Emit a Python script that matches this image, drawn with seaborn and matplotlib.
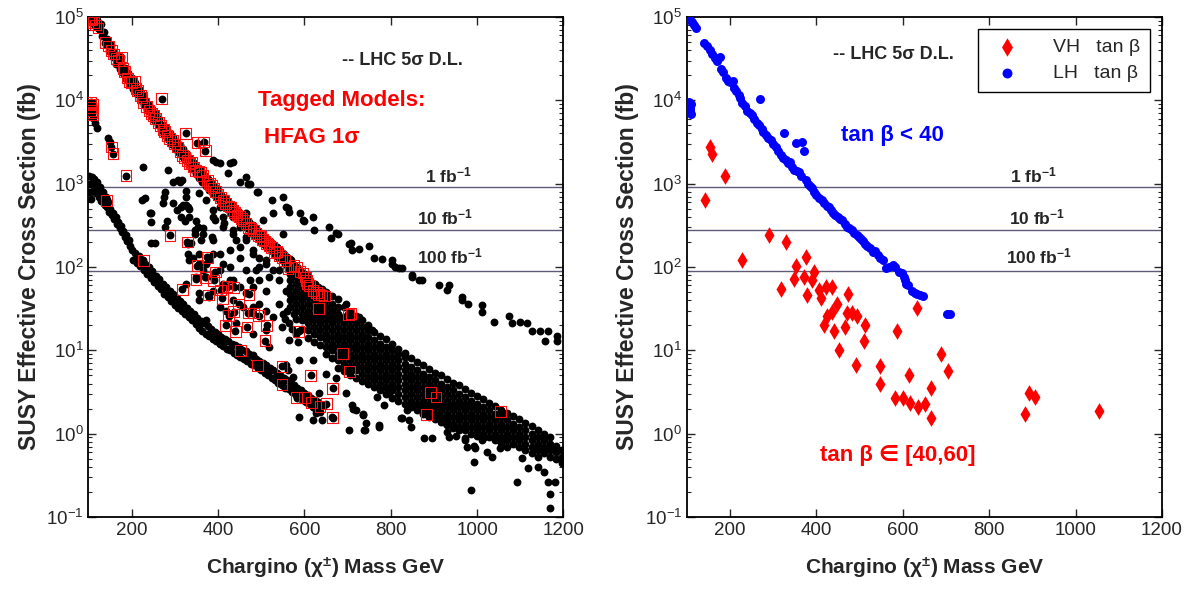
import numpy as np
import pandas as pd
import matplotlib
matplotlib.use("Agg")
import matplotlib.pyplot as plt
import seaborn as sns

# chargino mass (GeV) vs SUSY effective cross section (fb)

# upper diagonal band, all models (two staggered rows)
upper_band = [
    (104, 96000), (112, 94000), (120, 93000), (128, 83000), (136, 66000), (144, 54000),
    (152, 46000), (160, 38000), (168, 32000), (176, 28000), (184, 24500), (192, 21400),
    (200, 18600), (208, 16200), (216, 13800), (224, 12000), (232, 10200), (240, 8700),
    (248, 7800), (256, 6800), (264, 5900), (272, 5100), (280, 4600), (288, 4100),
    (296, 3600), (304, 3200), (312, 2900), (320, 2600), (328, 2300), (336, 2000),
    (344, 1780), (352, 1580), (360, 1410), (368, 1260), (376, 1150), (384, 1020),
    (392, 910), (400, 830), (408, 740), (416, 680), (424, 620), (432, 550),
    (440, 500), (448, 460), (456, 420), (464, 380), (472, 350), (480, 315),
    (488, 290), (496, 265), (504, 245), (512, 225), (520, 205), (528, 186),
    (536, 174), (544, 158), (552, 145), (560, 132), (568, 120), (576, 107),
    (584, 98), (592, 87), (600, 79), (608, 72), (616, 66), (624, 62), (632, 58), (640, 54),
    (108, 85000), (116, 78000), (124, 71000), (132, 59000), (140, 48000), (148, 39000),
    (156, 33000), (164, 27500), (172, 24000), (180, 21000), (188, 18200), (196, 15800),
    (204, 13800), (212, 12000), (220, 10200), (228, 8700), (236, 7600), (244, 6500),
    (252, 5750), (260, 5000), (268, 4400), (276, 3800), (284, 3400), (292, 3000),
    (300, 2700), (308, 2400), (316, 2150), (324, 1900), (332, 1700), (340, 1480),
    (348, 1320), (356, 1170), (364, 1050), (372, 950), (380, 850), (388, 760),
    (396, 690), (404, 620), (412, 560), (420, 510), (428, 460), (436, 420),
    (444, 380), (452, 350), (460, 315), (468, 290), (476, 265), (484, 240),
    (492, 220), (500, 200), (508, 186), (516, 170), (524, 155), (532, 141),
    (540, 132), (548, 120), (556, 110), (564, 100), (572, 91), (580, 81),
    (588, 74), (596, 66), (604, 60), (612, 55), (620, 50), (628, 47), (636, 44),
]

# lower band, all models
lower_band = [
    (102, 1250), (103, 1000), (104, 800), (105, 650), (108, 1200), (110, 1000),
    (112, 850), (114, 1150), (116, 960), (118, 780), (120, 1050), (122, 880),
    (124, 700), (126, 920), (128, 760), (130, 620), (133, 800), (135, 650),
    (138, 560), (140, 700), (143, 520), (146, 600), (148, 460), (151, 500),
    (154, 420), (157, 450), (160, 380), (163, 400), (166, 330), (169, 350),
    (172, 290), (175, 310), (178, 260), (181, 270), (184, 230), (187, 240),
    (190, 205), (193, 210), (196, 180),
    (200, 162), (204, 123), (208, 148), (212, 112), (216, 135), (220, 102),
    (224, 123), (228, 93), (232, 110), (236, 83), (240, 100), (244, 74),
    (248, 89), (252, 66), (256, 79), (260, 59), (264, 71), (268, 54),
    (272, 63), (276, 48), (280, 58), (284, 44), (288, 52), (292, 39),
    (296, 47), (300, 35), (304, 43), (308, 32), (312, 39), (316, 29.5),
    (320, 35.5), (324, 27), (328, 32), (332, 25), (336, 30), (340, 23),
    (344, 27.5), (348, 20.5), (352, 24.5), (356, 18.6), (360, 22.4), (364, 17),
    (368, 21), (372, 15.8), (376, 19.5), (380, 14.8), (384, 17.8), (388, 13.8),
    (392, 16.6), (396, 12.9), (400, 15.5), (404, 12), (408, 14.5), (412, 11.2),
    (416, 13.5), (420, 10.5), (424, 12.9), (428, 10), (432, 12), (436, 9.3),
    (440, 11.5), (444, 8.9), (448, 11), (452, 8.3), (456, 10.2), (460, 7.9),
    (464, 9.8), (468, 7.4), (472, 9.1), (476, 6.9), (480, 8.5), (484, 6.6),
    (488, 7.9), (492, 6.2), (496, 7.4), (500, 5.75), (504, 7.1), (508, 5.4),
    (512, 6.6), (516, 5.0), (520, 6.2), (524, 4.7), (528, 5.75), (532, 4.4),
    (536, 5.4), (540, 4.1), (544, 5.0), (548, 3.8), (552, 4.7), (556, 3.55),
    (560, 4.4), (564, 3.4), (568, 4.1), (572, 3.16), (576, 3.8), (580, 2.95),
    (584, 3.55), (588, 2.75), (592, 3.3), (596, 2.57), (600, 3.1), (604, 2.4),
    (608, 2.9), (612, 2.24), (616, 2.7), (620, 2.1), (624, 2.57), (628, 1.95),
    (632, 2.4), (636, 1.82),
]

# broad band at high mass: (mass, [cross sections in that column])
main_band = [
    (566, [125, 100, 83, 69, 58, 48, 40, 33]),
    (580, [93, 76, 63, 52, 44, 36, 30, 24]),
    (594, [85, 69, 58, 48, 40, 33, 27.5, 23, 18]),
    (608, [78, 63, 52, 44, 36, 30, 25, 21, 17.4, 14]),
    (622, [60, 48, 40, 33, 27.5, 23, 19, 15.8, 12.6]),
    (636, [54, 44, 36, 30, 25, 21, 17.4, 14.5, 11.5]),
    (650, [50, 40, 33, 27.5, 23, 19, 15.8, 13.2, 11, 9.0]),
    (664, [45, 36, 30, 25, 21, 17.4, 14.5, 12, 10, 8.0]),
    (678, [41, 33, 27.5, 23, 19, 15.8, 13.2, 11, 9.1, 7.6, 6.2]),
    (692, [33, 25, 21, 17.4, 14.5, 12, 10, 8.3, 6.9, 5.6]),
    (706, [29, 23, 19, 15.8, 13.2, 11, 9.1, 7.6, 6.3, 5.1]),
    (720, [26, 21, 17.4, 14.5, 12, 10, 8.3, 6.9, 5.75, 4.7]),
    (734, [23, 19, 15.8, 13.2, 11, 9.1, 7.6, 6.3, 5.2, 4.3]),
    (748, [20, 17.4, 14.5, 12, 10, 8.3, 6.9, 5.75, 4.8, 4.0]),
    (762, [16.5, 13.2, 11, 9.1, 7.6, 6.3, 5.2, 4.4, 3.6]),
    (776, [15, 12, 10, 8.3, 6.9, 5.75, 4.8, 4.0, 3.3]),
    (790, [13.5, 11, 9.1, 7.6, 6.3, 5.2, 4.4, 3.6, 3.0]),
    (804, [12, 10, 8.3, 6.9, 5.75, 4.8, 4.0, 3.3, 2.7]),
    (818, [10.5, 9.1, 7.6, 6.3, 5.2, 4.4, 3.6, 3.0, 2.5]),
    (832, [9.2, 8.3, 6.9, 5.75, 4.8, 4.0, 3.3, 2.75, 2.3]),
    (846, [8.0, 6.3, 5.2, 4.4, 3.6, 3.0, 2.5, 2.1]),
    (860, [7.3, 5.75, 4.8, 4.0, 3.3, 2.75, 2.3, 1.9]),
    (874, [6.6, 5.2, 4.4, 3.6, 3.0, 2.5, 2.1, 1.74]),
    (888, [6.0, 4.8, 4.0, 3.3, 2.75, 2.3, 1.9, 1.58]),
    (902, [5.4, 4.4, 3.6, 3.0, 2.5, 2.1, 1.74, 1.5]),
    (916, [5.0, 4.0, 3.3, 2.75, 2.3, 1.9, 1.58, 1.38]),
    (930, [4.5, 3.6, 3.0, 2.5, 2.1, 1.74, 1.45, 1.28]),
    (944, [4.1, 3.3, 2.75, 2.3, 1.9, 1.58, 1.32, 1.18]),
    (958, [3.8, 3.0, 2.5, 2.1, 1.74, 1.45, 1.2, 1.1]),
    (972, [3.4, 2.75, 2.3, 1.9, 1.58, 1.32, 1.1]),
    (986, [3.1, 2.5, 2.1, 1.74, 1.45, 1.2, 1.0]),
    (1000, [2.8, 2.3, 1.9, 1.58, 1.32, 1.1, 0.93]),
    (1014, [2.6, 2.1, 1.74, 1.45, 1.2, 1.0, 0.88]),
    (1028, [2.35, 1.9, 1.58, 1.32, 1.1, 0.91]),
    (1042, [2.15, 1.74, 1.45, 1.2, 1.0, 0.83]),
    (1056, [1.95, 1.58, 1.32, 1.1, 0.91, 0.77]),
    (1070, [1.78, 1.45, 1.2, 1.0, 0.83, 0.7]),
    (1084, [1.62, 1.32, 1.1, 0.91, 0.76]),
    (1098, [1.48, 1.2, 1.0, 0.83, 0.69]),
    (1112, [1.35, 1.1, 0.91, 0.76, 0.63]),
    (1126, [1.22, 1.0, 0.83, 0.69, 0.58]),
    (1140, [1.12, 0.91, 0.76, 0.63, 0.53]),
    (1154, [1.0, 0.83, 0.69, 0.58]),
    (1168, [0.92, 0.76, 0.63, 0.52]),
    (1182, [0.72, 0.6, 0.49]),
    (1196, [0.64, 0.53, 0.45]),
]

# sparse upper line
sparse_line = [
    (388, 1900), (396, 1800), (404, 1750), (427, 1750), (434, 1800), (423, 1350),
    (450, 1050), (466, 1200), (469, 1000), (473, 1000), (491, 790), (492, 800),
    (526, 630), (550, 690), (558, 525), (561, 510), (565, 460), (589, 450),
    (596, 365), (600, 360), (619, 400), (623, 275), (658, 300), (662, 225),
    (673, 255), (677, 250), (704, 190), (708, 195), (710, 160), (727, 165),
    (750, 180), (761, 130), (780, 126), (803, 120), (804, 110), (811, 100),
    (819, 96), (826, 96), (849, 75), (850, 80), (865, 69), (872, 69),
    (911, 60), (930, 53), (934, 60), (965, 44), (965, 40), (980, 36),
    (1011, 35), (1011, 29), (1038, 22), (1073, 26), (1081, 21), (1100, 22),
    (1115, 21), (1127, 17), (1146, 17), (1158, 13), (1165, 17), (1184, 15), (1184, 13),
]

# scattered models between the bands
scatter_mid = [
    (115, 5400), (119, 4600), (111, 6200), (146, 3500), (150, 3200), (226, 1580),
    (284, 1450), (296, 1050), (311, 1050), (307, 1100), (316, 1100), (277, 790),
    (276, 700), (223, 630), (230, 680), (246, 450), (242, 450), (272, 590),
    (296, 590), (304, 480), (315, 525), (330, 520), (326, 690), (318, 550),
    (327, 820), (246, 350), (281, 360), (315, 400), (323, 360), (334, 500),
    (350, 360), (357, 780), (373, 630), (365, 250), (388, 210), (338, 195),
    (246, 195), (254, 195), (277, 300), (330, 190), (353, 300), (346, 250),
    (360, 210), (330, 145), (334, 120), (357, 145), (373, 110), (404, 145),
    (404, 91), (427, 100), (434, 69), (357, 49), (388, 52), (411, 58),
    (450, 58), (496, 100), (512, 120), (481, 145), (450, 175), (465, 210),
    (427, 160), (434, 250), (411, 300), (388, 400), (404, 525), (434, 400),
    (450, 300), (465, 450), (496, 250), (504, 365), (527, 450), (527, 190),
    (542, 145), (550, 250), (334, 400), (327, 550), (346, 275), (365, 295),
    (385, 230), (392, 365), (411, 400), (388, 480), (415, 340), (434, 275),
    (442, 210), (465, 230), (481, 160), (496, 130), (511, 110), (450, 130),
    (465, 91), (488, 91), (411, 110), (388, 145), (342, 130), (357, 110),
    (373, 76), (411, 63), (473, 69), (519, 76), (542, 91), (558, 110),
    (327, 63), (350, 76), (365, 91), (380, 120), (388, 76), (427, 69),
    (465, 49), (481, 58), (496, 69), (512, 52), (527, 91), (542, 69),
    (558, 52), (573, 44), (588, 63), (619, 44), (635, 33), (665, 30),
    (696, 36), (727, 25), (757, 17.4), (357, 40), (380, 44), (404, 33),
    (373, 23), (419, 30), (434, 40), (457, 33), (481, 33), (496, 36),
    (512, 30), (527, 25), (542, 36), (550, 27.5), (565, 21), (581, 15.8),
    (565, 13.2), (442, 21), (481, 15.8), (512, 17.4), (519, 11),
    (555, 24), (572, 18), (560, 30), (586, 12.5), (548, 19), (575, 27),
]

# scattered models below the broad band
scatter_low = [
    (481, 8.7), (512, 6.2), (558, 6.6), (561, 5.75), (588, 7.6), (573, 4.8),
    (619, 7.6), (650, 5.25), (673, 4.6), (696, 3.1), (711, 2.2), (719, 1.9),
    (735, 1.66), (704, 1.1), (738, 1.1), (742, 1.35), (769, 2.75), (588, 1.58),
    (619, 1.45), (627, 1.78), (642, 1.45), (665, 1.58), (646, 2.2), (611, 2.5),
    (635, 3.1), (712, 2.0), (773, 1.26), (785, 3.6), (796, 3.1), (785, 2.2),
    (823, 1.55), (838, 1.9), (842, 1.45), (865, 2.2), (877, 0.89), (904, 1.66),
    (923, 1.38), (930, 1.05), (935, 0.91), (950, 0.95), (973, 0.89), (977, 0.69),
    (996, 0.68), (1012, 0.83), (773, 1.2), (735, 1.7), (740, 1.1), (827, 1.55),
    (846, 1.2), (896, 0.89), (923, 1.4), (973, 0.83), (992, 0.72), (992, 0.46),
    (1023, 0.6), (1035, 0.52), (985, 0.21), (1054, 0.68), (1092, 0.26), (1104, 0.51),
    (1119, 0.39), (1142, 0.4), (1154, 0.35), (1165, 0.26), (1169, 0.19), (1169, 0.13),
    (1180, 0.26),
]

# tagged models (HFAG 1 sigma), split by tan beta
lh_models = [
    (100, 98000), (104, 96000), (108, 93000), (112, 86000), (117, 80000), (122, 74000),
    (105, 9500), (106, 8200), (108, 7600), (110, 9000), (109, 6800), (107, 7200),
    (139, 49000), (146, 45000), (153, 40000), (158, 36000), (165, 32000), (170, 30000),
    (176, 33000), (180, 24000), (184, 22000), (190, 18500), (195, 17000), (200, 16500),
    (206, 17000), (210, 14000), (214, 13000), (220, 11500), (224, 10800), (228, 9300),
    (234, 8500), (240, 7500), (246, 7000), (251, 6600), (256, 6000), (262, 5400),
    (267, 5000), (270, 10500), (273, 4500), (276, 4200), (282, 3800), (288, 3500),
    (294, 3300), (300, 3000), (306, 2750), (312, 2450), (317, 2200), (322, 2050),
    (325, 4000), (329, 1900), (334, 1750), (338, 1800), (344, 1580), (348, 1450),
    (352, 3100), (356, 1400), (360, 1380), (364, 1250), (367, 3160), (371, 2500),
    (375, 1100), (380, 1000), (385, 950), (390, 890), (395, 800), (400, 740),
    (406, 680), (412, 630), (418, 580), (424, 540), (429, 525), (434, 480),
    (439, 450), (444, 420), (449, 400), (454, 380), (459, 365), (465, 330),
    (470, 300), (476, 290), (482, 275), (488, 255), (493, 240), (498, 230),
    (503, 215), (508, 205), (513, 190), (518, 180), (524, 170), (531, 150),
    (536, 155), (542, 138), (548, 130), (554, 120), (562, 96), (568, 100),
    (576, 105), (582, 100), (590, 88), (597, 85), (602, 76), (605, 69),
    (608, 63), (612, 60), (620, 52), (628, 49), (633, 47), (639, 46),
    (647, 45), (702, 27), (708, 27.5),
]
vh_models = [
    (142, 630), (153, 2750), (157, 2300), (187, 1250), (227, 120), (289, 240),
    (317, 54), (329, 200), (349, 71), (352, 104), (371, 75), (375, 131),
    (378, 46), (390, 69), (394, 87), (406, 53), (410, 42), (418, 20),
    (421, 58), (425, 26), (436, 29), (436, 57), (440, 17), (448, 36),
    (452, 10), (467, 19), (470, 28), (472, 47), (482, 28), (491, 6.6),
    (494, 26), (509, 13), (513, 20), (548, 6.4), (548, 3.9), (582, 2.7),
    (587, 17), (601, 2.7), (615, 5.0), (617, 2.35), (633, 32), (636, 2.1),
    (651, 2.3), (666, 3.5), (666, 1.55), (689, 9.1), (705, 5.6), (882, 1.7),
    (892, 3.1), (905, 2.75), (1055, 1.85),
]

# LHC 5 sigma discovery limits
lumi_levels = [900, 280, 89]
lumi_labels = ["1 fb$^{-1}$", "10 fb$^{-1}$", "100 fb$^{-1}$"]

sns.set_style("ticks")
plt.rcParams["font.family"] = ["Liberation Sans", "DejaVu Sans"]
plt.rcParams["mathtext.default"] = "regular"


def to_frame(pairs):
    return pd.DataFrame(pairs, columns=["mass", "xsec"])


main_pairs = [(m, v) for m, vals in main_band for v in vals]
other = to_frame(upper_band + lower_band + main_pairs + sparse_line + scatter_mid + scatter_low)
tagged = to_frame(lh_models + vh_models)
lh = to_frame(lh_models)
vh = to_frame(vh_models)

fig = plt.figure(figsize=(11.92, 5.9), dpi=100)
ax1 = fig.add_axes([0.0742, 0.1237, 0.3985, 0.8475])
ax2 = fig.add_axes([0.5763, 0.1237, 0.3985, 0.8475])

for ax in (ax1, ax2):
    for lev in lumi_levels:
        ax.axhline(lev, color="#5c5c7a", lw=1.0, zorder=1)

# left: all models, tagged ones boxed
sns.scatterplot(data=other, x="mass", y="xsec", ax=ax1, color="black", s=32,
                linewidth=0, zorder=2)
sns.scatterplot(data=tagged, x="mass", y="xsec", ax=ax1, color="black", s=32,
                linewidth=0, zorder=3)
sns.scatterplot(data=tagged, x="mass", y="xsec", ax=ax1, marker="s", s=60,
                facecolor="none", edgecolor="#ff1010", linewidth=0.8, zorder=4)

# right: tagged models by tan beta
sns.scatterplot(data=vh, x="mass", y="xsec", ax=ax2, marker="d", s=72, color="#ff0000",
                linewidth=0, zorder=3, label="VH   tan β")
sns.scatterplot(data=lh, x="mass", y="xsec", ax=ax2, marker="o", s=42, color="#0000ff",
                linewidth=0, zorder=3, label="LH   tan β")

for ax in (ax1, ax2):
    ax.set_yscale("log")
    ax.set_xlim(100, 1200)
    ax.set_ylim(0.1, 1e5)
    ax.set_xticks([200, 400, 600, 800, 1000, 1200])
    ax.tick_params(which="both", direction="in", top=True, right=True, labelsize=13.5)
    ax.tick_params(which="major", length=6, width=1)
    ax.tick_params(which="minor", length=3, width=0.8)
    for sp in ax.spines.values():
        sp.set_linewidth(1.3)
        sp.set_color("black")
    ax.set_xlabel("Chargino (χ$^{\\pm}$) Mass GeV", fontsize=15, fontweight="bold", labelpad=12)
    ax.set_ylabel("SUSY Effective Cross Section (fb)", fontsize=16.5, fontweight="bold", labelpad=4)

# left annotations
ax1.text(826, 3.0e4, "-- LHC 5σ D.L.", fontsize=13, fontweight="bold", ha="center", va="center")
ax1.text(492, 1.0e4, "Tagged Models:", fontsize=16, fontweight="bold", color="red",
         ha="left", va="center")
ax1.text(507, 3.6e3, "HFAG 1σ", fontsize=16, fontweight="bold", color="red",
         ha="left", va="center")
for lab, m, y in zip(lumi_labels, [934, 927, 936], [1250, 390, 135]):
    ax1.text(m, y, lab, fontsize=12.5, fontweight="bold", ha="center", va="center")

# right annotations
ax2.text(578, 3.5e4, "-- LHC 5σ D.L.", fontsize=13, fontweight="bold", ha="center", va="center")
ax2.text(575, 3.8e3, "tan β < 40", fontsize=16, fontweight="bold", color="#0000ff",
         ha="center", va="center")
ax2.text(587, 0.55, "tan β ∈ [40,60]", fontsize=16, fontweight="bold", color="red",
         ha="center", va="center")
for lab, m, y in zip(lumi_labels, [903, 910, 915], [1250, 390, 135]):
    ax2.text(m, y, lab, fontsize=12.5, fontweight="bold", ha="center", va="center")

leg = ax2.legend(loc="upper right", fontsize=14, frameon=True, fancybox=False,
                 edgecolor="black", framealpha=1, borderaxespad=0.6, handletextpad=1.4,
                 borderpad=0.5, labelspacing=0.45, markerscale=1.1)
leg.get_frame().set_linewidth(1.0)

fig.savefig("out.png", dpi=100)
